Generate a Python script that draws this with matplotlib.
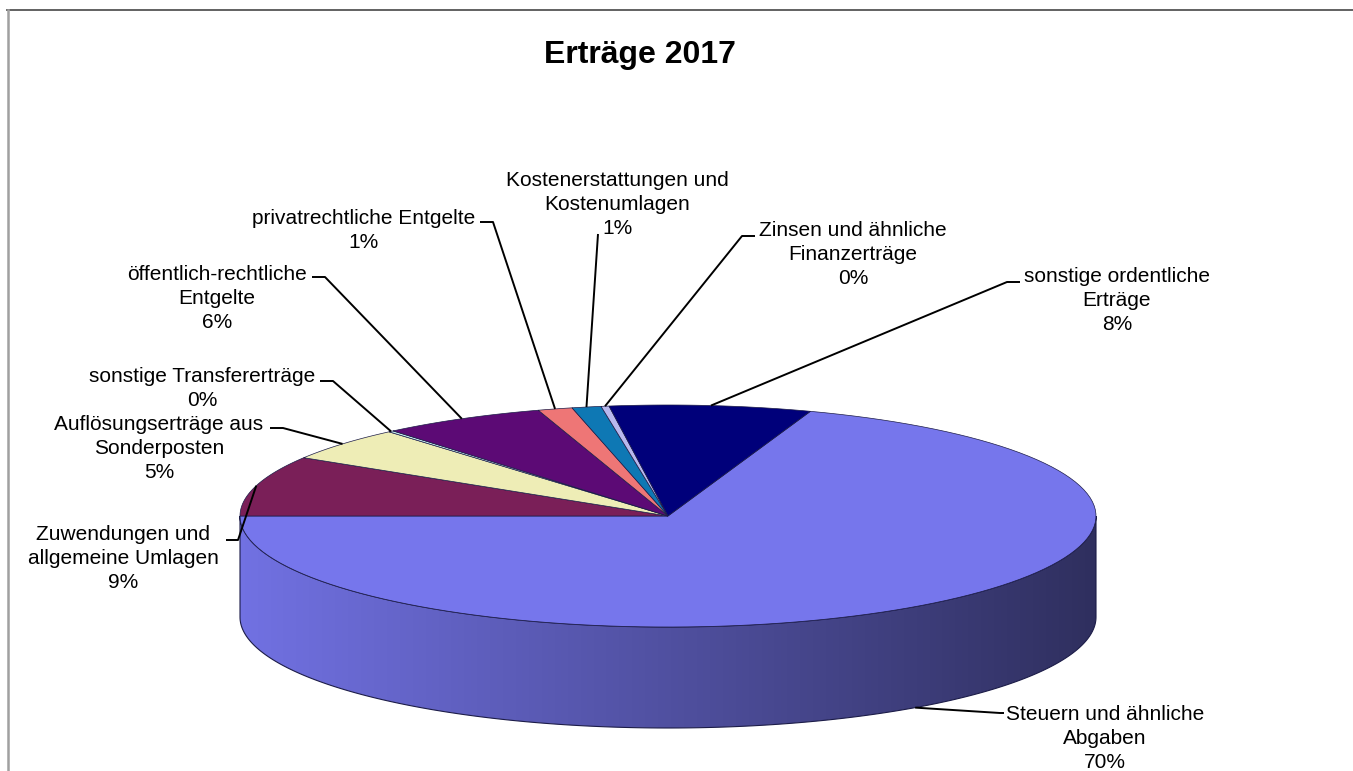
import numpy as np
import matplotlib
matplotlib.use("Agg")
import matplotlib.pyplot as plt
from matplotlib.patches import Polygon
from matplotlib.lines import Line2D

plt.rcParams['font.family'] = ['Liberation Sans', 'DejaVu Sans']

# data
title = "Erträge 2017"
categories = ["Steuern und ähnliche\nAbgaben",
              "Zuwendungen und\nallgemeine Umlagen",
              "Auflösungserträge aus\nSonderposten",
              "sonstige Transfererträge",
              "öffentlich-rechtliche\nEntgelte",
              "privatrechtliche Entgelte",
              "Kostenerstattungen und\nKostenumlagen",
              "Zinsen und ähnliche\nFinanzerträge",
              "sonstige ordentliche\nErträge"]
shares = [69.6, 8.8, 4.9, 0.2, 6.2, 1.3, 1.1, 0.3, 7.6]
colors = ["#7676ec", "#7a1f58", "#eeedb6", "#c8eef0", "#5c0a75",
          "#ee7676", "#0e78b4", "#b8b8ee", "#00007a"]

# layout (pixels): text centre x, first line centre y, knee of leader, tick end near text
label_pos = [(1105, 712, (1000, 713), (1004, 713)),
             (123, 533, (238, 540), (226, 540)),
             (159, 423, (283, 428), (270, 428)),
             (202, 375, (333, 381), (320, 381)),
             (217, 272, (325, 277), (312, 277)),
             (364, 217, (493, 222), (480, 222)),
             (617, 178, (598, 234), (598, 234)),
             (853, 228, (742, 236), (755, 236)),
             (1117, 275, (1007, 282), (1020, 282))]

W, H = 1353, 771
fig = plt.figure(figsize=(W / 100, H / 100), dpi=100)
ax = fig.add_axes([0, 0, 1, 1])

cx, cy, rx, ry, depth = 668, 516, 428, 111, 101
edge = "#1c1c48"


def ell(t, dy=0):
    t = np.radians(t)
    return np.column_stack([cx + rx * np.cos(t), cy - ry * np.sin(t) + dy])


# angles: clockwise, Steuern ends at the left (-180 deg)
total = sum(shares)
sweep = [s / total * 360 for s in shares]
start = sweep[0] - 180
bounds = start - np.concatenate([[0], np.cumsum(sweep)])

# side of the pie (front half only)
for i, c in enumerate(colors):
    a0, a1 = bounds[i], bounds[i + 1]
    lo, hi = max(a1, -180), min(a0, 0)
    if hi <= lo:
        continue
    t = np.linspace(hi, lo, 200)
    top = ell(t)
    bot = ell(t[::-1], depth)
    poly = Polygon(np.vstack([top, bot]), closed=True, facecolor="none",
                   edgecolor=edge, linewidth=0.8, zorder=3)
    ax.add_patch(poly)
    base = np.array(matplotlib.colors.to_rgb(c))
    xs = np.linspace(cx - rx, cx + rx, 400)
    f = 0.96 - 0.56 * (xs - (cx - rx)) / (2 * rx)
    img = np.clip(base[None, None, :] * f[None, :, None], 0, 1)
    im = ax.imshow(img, extent=(cx - rx, cx + rx, cy + ry + depth + 2, cy - 2),
                   aspect='auto', zorder=2, interpolation='bilinear')
    im.set_clip_path(poly)

# top face
for i, c in enumerate(colors):
    t = np.linspace(bounds[i], bounds[i + 1], 120)
    pts = np.vstack([[cx, cy], ell(t)])
    ax.add_patch(Polygon(pts, closed=True, facecolor=c, edgecolor=edge,
                         linewidth=0.5, zorder=4))

# labels with leader lines
for i, (name, v) in enumerate(zip(categories, shares)):
    tx, ty, knee, tick = label_pos[i]
    mid = (bounds[i] + bounds[i + 1]) / 2
    if np.sin(np.radians(mid)) < 0:
        p = ell(np.array([mid]), depth)[0]
    else:
        p = ell(np.array([mid]))[0]
    ax.plot([p[0], knee[0], tick[0]], [p[1], knee[1], tick[1]],
            color="black", linewidth=1.4, zorder=6, solid_capstyle='butt')
    lines = name.split("\n") + [f"{round(v)}%"]
    for k, ln in enumerate(lines):
        ax.text(tx, ty + 24 * k + 7.5, ln, ha="center", va="baseline",
                fontsize=15, color="black", zorder=7)

ax.text(640, 55, title, ha="center", va="center", fontsize=23,
        fontweight="bold")

# chart frame
fig.add_artist(Line2D([7 / W, 1], [1 - 10 / H, 1 - 10 / H], color="#555555",
                      linewidth=1.3))
fig.add_artist(Line2D([8 / W, 8 / W], [0, 1 - 10 / H], color="#a0a0a0",
                      linewidth=1.8))

ax.set_xlim(0, W)
ax.set_ylim(H, 0)
ax.axis("off")
fig.savefig("out.png", dpi=100, facecolor="white")
